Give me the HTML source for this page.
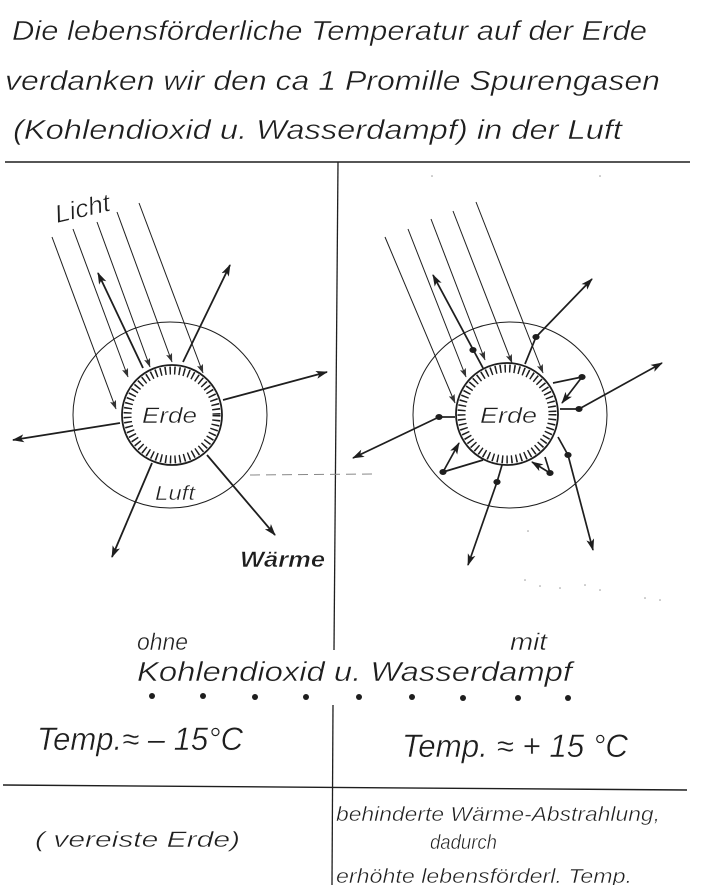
<!DOCTYPE html>
<html>
<head>
<meta charset="utf-8">
<style>
  html, body { margin:0; padding:0; background:#fff; }
  svg { display:block; }
  text { font-family: "Liberation Sans", "DejaVu Sans", sans-serif; font-style: italic; fill:#1e1e1e; stroke:#fff; stroke-width:0.45px; }
</style>
</head>
<body>
<svg width="705" height="885" viewBox="0 0 705 885" xmlns="http://www.w3.org/2000/svg">
  <defs>
    <marker id="h" viewBox="0 0 12 8" refX="11" refY="4" markerWidth="12" markerHeight="8" markerUnits="userSpaceOnUse" orient="auto">
      <path d="M0,0 L12,4 L0,8 L3,4 z" fill="#1e1e1e"/>
    </marker>
    <marker id="r" viewBox="0 0 10 7" refX="9.5" refY="3.5" markerWidth="9" markerHeight="7" markerUnits="userSpaceOnUse" orient="auto">
      <path d="M0,0 L10,3.5 L0,7 L2,3.5 z" fill="#333"/>
    </marker>
  </defs>
  <rect width="705" height="885" fill="#fff"/>

  <!-- Title -->
  <text x="12" y="40" font-size="28" textLength="635" lengthAdjust="spacingAndGlyphs">Die lebensförderliche Temperatur auf der Erde</text>
  <text x="5" y="90" font-size="28" textLength="655" lengthAdjust="spacingAndGlyphs">verdanken wir den ca 1 Promille Spurengasen</text>
  <text x="13" y="139" font-size="28" textLength="609" lengthAdjust="spacingAndGlyphs">(Kohlendioxid u. Wasserdampf) in der Luft</text>

  <!-- Frame lines -->
  <g stroke="#1e1e1e" fill="none">
    <line x1="5" y1="162" x2="690" y2="162" stroke-width="1.6"/>
    <line x1="338" y1="162" x2="334" y2="650" stroke-width="1.3"/>
    <line x1="333" y1="705" x2="332" y2="885" stroke-width="1.3"/>
    <line x1="3" y1="785" x2="687" y2="790" stroke-width="1.4"/>
  </g>

  <!-- dashed faint line -->
  <line x1="250" y1="475" x2="373" y2="474" stroke="#888" stroke-width="1" stroke-dasharray="10 6"/>

  <!-- ========== LEFT DIAGRAM ========== -->
  <g stroke="#1e1e1e" fill="none">
    <ellipse cx="170" cy="415" rx="97" ry="93" stroke-width="1"/>
    <circle cx="172" cy="415" r="50" fill="#fff" stroke-width="1.8"/>
    <circle cx="172" cy="415" r="44.5" stroke-width="8" stroke-dasharray="1.5 3.2"/>

    <!-- light rays -->
    <g stroke-width="1">
      <line x1="52" y1="237" x2="116" y2="409" marker-end="url(#r)"/>
      <line x1="73" y1="229" x2="128" y2="377" marker-end="url(#r)"/>
      <line x1="97" y1="222" x2="150" y2="367" marker-end="url(#r)"/>
      <line x1="117" y1="212" x2="172" y2="362" marker-end="url(#r)"/>
      <line x1="139" y1="203" x2="203" y2="373" marker-end="url(#r)"/>
    </g>
    <!-- reflected -->
    <line x1="143" y1="368" x2="98" y2="273" stroke-width="1.8" marker-end="url(#h)"/>
    <!-- heat arrows -->
    <g stroke-width="1.8">
      <line x1="183" y1="362" x2="230" y2="265" marker-end="url(#h)"/>
      <line x1="223" y1="400" x2="327" y2="372" marker-end="url(#h)"/>
      <line x1="120" y1="423" x2="13" y2="440" marker-end="url(#h)"/>
      <line x1="152" y1="463" x2="112" y2="557" marker-end="url(#h)"/>
      <line x1="207" y1="455" x2="275" y2="535" marker-end="url(#h)"/>
    </g>
  </g>
  <text x="57" y="223" font-size="25" textLength="56" lengthAdjust="spacingAndGlyphs" transform="rotate(-13 57 223)">Licht</text>
  <text x="142" y="423" font-size="22" textLength="55" lengthAdjust="spacingAndGlyphs">Erde</text>
  <text x="155" y="500" font-size="20" textLength="40" lengthAdjust="spacingAndGlyphs">Luft</text>
  <text x="240" y="567" font-size="22" font-weight="bold" textLength="85" lengthAdjust="spacingAndGlyphs">Wärme</text>

  <!-- ========== RIGHT DIAGRAM ========== -->
  <g stroke="#1e1e1e" fill="none">
    <ellipse cx="510" cy="415" rx="97" ry="93" stroke-width="1"/>
    <circle cx="507" cy="414" r="51" fill="#fff" stroke-width="1.8"/>
    <circle cx="507" cy="414" r="45.5" stroke-width="8" stroke-dasharray="1.5 3.2"/>

    <g stroke-width="1">
      <line x1="385" y1="237" x2="455" y2="403" marker-end="url(#r)"/>
      <line x1="408" y1="229" x2="466" y2="377" marker-end="url(#r)"/>
      <line x1="431" y1="219" x2="485" y2="360" marker-end="url(#r)"/>
      <line x1="453" y1="211" x2="512" y2="363" marker-end="url(#r)"/>
      <line x1="476" y1="202" x2="543" y2="373" marker-end="url(#r)"/>
    </g>
    <line x1="483" y1="368" x2="433" y2="275" stroke-width="1.8" marker-end="url(#h)"/>

    <g stroke-width="1.7">
      <line x1="525" y1="364" x2="536" y2="337"/>
      <line x1="536" y1="337" x2="592" y2="279" marker-end="url(#h)"/>
      <line x1="553" y1="383" x2="582" y2="377"/>
      <line x1="582" y1="377" x2="562" y2="403" marker-end="url(#h)"/>
      <line x1="560" y1="409" x2="579" y2="409"/>
      <line x1="579" y1="409" x2="662" y2="363" marker-end="url(#h)"/>
      <line x1="455" y1="417" x2="439" y2="417"/>
      <line x1="439" y1="417" x2="353" y2="458" marker-end="url(#h)"/>
      <line x1="483" y1="460" x2="443" y2="472"/>
      <line x1="443" y1="472" x2="459" y2="443" marker-end="url(#h)"/>
      <line x1="502" y1="465" x2="497" y2="482"/>
      <line x1="497" y1="482" x2="468" y2="565" marker-end="url(#h)"/>
      <line x1="545" y1="457" x2="550" y2="473"/>
      <line x1="550" y1="473" x2="532" y2="462" marker-end="url(#h)"/>
      <line x1="558" y1="437" x2="568" y2="455"/>
      <line x1="568" y1="455" x2="593" y2="550" marker-end="url(#h)"/>
    </g>
  </g>
  <g fill="#1e1e1e">
    <ellipse cx="473" cy="350" rx="3.6" ry="3"/>
    <ellipse cx="536" cy="337" rx="3.6" ry="3"/>
    <ellipse cx="582" cy="377" rx="3.6" ry="3"/>
    <ellipse cx="579" cy="409" rx="3.6" ry="3"/>
    <ellipse cx="439" cy="417" rx="3.6" ry="3"/>
    <ellipse cx="443" cy="472" rx="3.6" ry="3"/>
    <ellipse cx="497" cy="482" rx="3.6" ry="3"/>
    <ellipse cx="550" cy="473" rx="3.6" ry="3"/>
    <ellipse cx="568" cy="455" rx="3.6" ry="3"/>
  </g>
  <text x="480" y="423" font-size="22" textLength="57" lengthAdjust="spacingAndGlyphs">Erde</text>

  <!-- specks -->
  <g fill="#999">
    <circle cx="525" cy="580" r="0.8"/><circle cx="540" cy="586" r="0.8"/>
    <circle cx="560" cy="588" r="0.8"/><circle cx="585" cy="585" r="0.8"/>
    <circle cx="600" cy="590" r="0.8"/><circle cx="645" cy="598" r="0.8"/>
    <circle cx="660" cy="600" r="0.8"/><circle cx="528" cy="531" r="0.8"/>
    <circle cx="432" cy="176" r="0.8"/><circle cx="600" cy="176" r="0.8"/>
  </g>

  <!-- ========== BOTTOM TEXT ========== -->
  <text x="137" y="650" font-size="24" textLength="51" lengthAdjust="spacingAndGlyphs">ohne</text>
  <text x="510" y="650" font-size="24" textLength="37" lengthAdjust="spacingAndGlyphs">mit</text>
  <text x="137" y="681" font-size="28" textLength="435" lengthAdjust="spacingAndGlyphs">Kohlendioxid u. Wasserdampf</text>
  <g fill="#1e1e1e">
    <circle cx="152" cy="696" r="3"/><circle cx="203" cy="696" r="3"/>
    <circle cx="255" cy="697" r="3"/><circle cx="306" cy="697" r="3"/>
    <circle cx="359" cy="697" r="3"/><circle cx="412" cy="697" r="3"/>
    <circle cx="463" cy="698" r="3"/><circle cx="518" cy="698" r="3"/>
    <circle cx="568" cy="698" r="3"/>
  </g>
  <text x="37" y="750" font-size="32" textLength="206" lengthAdjust="spacingAndGlyphs">Temp.≈ – 15°C</text>
  <text x="402" y="757" font-size="32" textLength="226" lengthAdjust="spacingAndGlyphs">Temp. ≈ + 15 °C</text>

  <text x="35" y="847" font-size="22" textLength="205" lengthAdjust="spacingAndGlyphs">( vereiste Erde)</text>
  <text x="336" y="821" font-size="20" textLength="324" lengthAdjust="spacingAndGlyphs">behinderte Wärme-Abstrahlung,</text>
  <text x="430" y="849" font-size="20" textLength="67" lengthAdjust="spacingAndGlyphs">dadurch</text>
  <text x="336" y="883" font-size="20" textLength="296" lengthAdjust="spacingAndGlyphs">erhöhte lebensförderl. Temp.</text>
</svg>
</body>
</html>
